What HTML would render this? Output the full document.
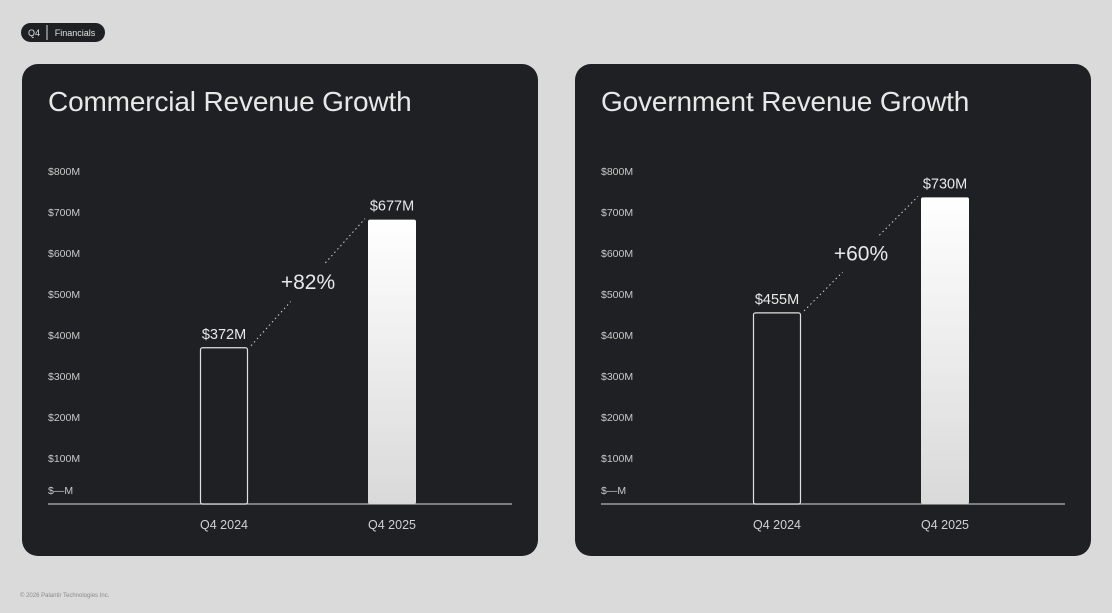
<!DOCTYPE html>
<html><head><meta charset="utf-8">
<style>
html,body{margin:0;padding:0;background:#dadada;width:1112px;height:613px;overflow:hidden;font-family:"Liberation Sans",sans-serif;}
svg{display:block}
</style></head>
<body>
<svg id="s" width="1112" height="613" viewBox="0 0 1112 613">
<defs>
<linearGradient id="g" x1="0" y1="0" x2="0" y2="1"><stop offset="0" stop-color="#ffffff"/><stop offset="1" stop-color="#d9d9d9"/></linearGradient>
</defs>
<g>
<rect x="21" y="23" width="84" height="19" rx="9.5" fill="#1f2023"/>
<line x1="47" y1="25" x2="47" y2="40" stroke="#dadada" stroke-width="1"/>
<text x="34" y="36" font-size="9" fill="#e0e0e0" text-anchor="middle">Q4</text>
<text x="75" y="36" font-size="9" fill="#e0e0e0" text-anchor="middle">Financials</text>
</g>
<text x="20" y="597" font-size="6" fill="#8a8a8a">© 2026 Palantir Technologies Inc.</text>
</svg>
<script>
const titles = ["Commercial Revenue Growth", "Government Revenue Growth"];
const categories = ["Q4 2024", "Q4 2025"];
const commercialValues = [372, 677];
const governmentValues = [455, 730];
const valueLabels = [["$372M","$677M"],["$455M","$730M"]];
const growthLabels = ["+82%", "+60%"];
const tickValues = [800,700,600,500,400,300,200,100];
const tickLabels = ["$800M","$700M","$600M","$500M","$400M","$300M","$200M","$100M"];

const NS="http://www.w3.org/2000/svg";
const svg=document.getElementById('s');
function mk(tag,attrs,parent,text){const e=document.createElementNS(NS,tag);for(const k in attrs)e.setAttribute(k,attrs[k]);if(text!==undefined)e.textContent=text;parent.appendChild(e);return e;}
const base=504, scale=0.42;
function y(v){return base-v*scale;}
function tickY(v){return 171+(800-v)/100*41;}
const series=[commercialValues,governmentValues];
[0,1].forEach(ci=>{
  const ox=ci*553;
  const g=mk('g',{},svg);
  
  
  const p=mk('rect',{x:22+ox,y:64,width:516,height:492,rx:16,fill:'#1f2023'},g);
  
  
  const t=mk('text',{x:48+ox,y:111,'font-size':28,fill:'#e8e8e8','letter-spacing':'-0.15'},g,titles[ci]);
  
  
  tickValues.forEach((v,i)=>{
    const tl=mk('text',{x:48+ox,y:tickY(v)+4,'font-size':10.5,fill:'#c8c8c8'},g,tickLabels[i]);
    
    
  });
  const z=mk('text',{x:48+ox,y:494,'font-size':10.5,fill:'#c8c8c8'},g,'$—M');
  
  
  const ax=mk('line',{x1:48+ox,y1:504,x2:512+ox,y2:504,stroke:'#b5b5b5','stroke-width':1.3},g);
  
  
  const vals=series[ci];
  const bx=[200+ox,368+ox], bw=48;
  vals.forEach((v,i)=>{
    let b;
    if(i===0) b=mk('rect',{x:bx[i]+0.5,y:y(v),width:bw-1,height:base-y(v),rx:2,fill:'#1f2023',stroke:'#e0e0e0','stroke-width':1.2},g);
    else b=mk('rect',{x:bx[i],y:y(v),width:bw,height:base-y(v),rx:2,fill:'url(#g)'},g);
    
    
    const vl=mk('text',{x:bx[i]+bw/2,y:y(v)-9,'font-size':14.5,fill:'#e8e8e8','text-anchor':'middle'},g,valueLabels[ci][i]);
    
    
    const cl=mk('text',{x:bx[i]+bw/2,y:529,'font-size':12.5,fill:'#d0d0d0','text-anchor':'middle'},g,categories[i]);
    
    
  });
  const x1=bx[0]+bw+3, y1=y(vals[0])-2, x2=bx[1]-3, y2=y(vals[1])-1;
  const mx=(x1+x2)/2, my=(y1+y2)/2;
  const dx=x2-x1, dy=y2-y1, L=Math.hypot(dx,dy), gap=26;
  const ux=dx/L, uy=dy/L;
  [[x1,y1,mx-ux*gap,my-uy*gap],[mx+ux*gap,my+uy*gap,x2,y2]].forEach(s=>{
    const l=mk('line',{x1:s[0],y1:s[1],x2:s[2],y2:s[3],stroke:'#d0d0d0','stroke-width':1,'stroke-dasharray':'1.5 3'},g);
    
    
  });
  const gl=mk('text',{x:mx,y:my+7,'font-size':21,fill:'#e8e8e8','text-anchor':'middle'},g,growthLabels[ci]);
  
  
});
</script>
</body></html>
